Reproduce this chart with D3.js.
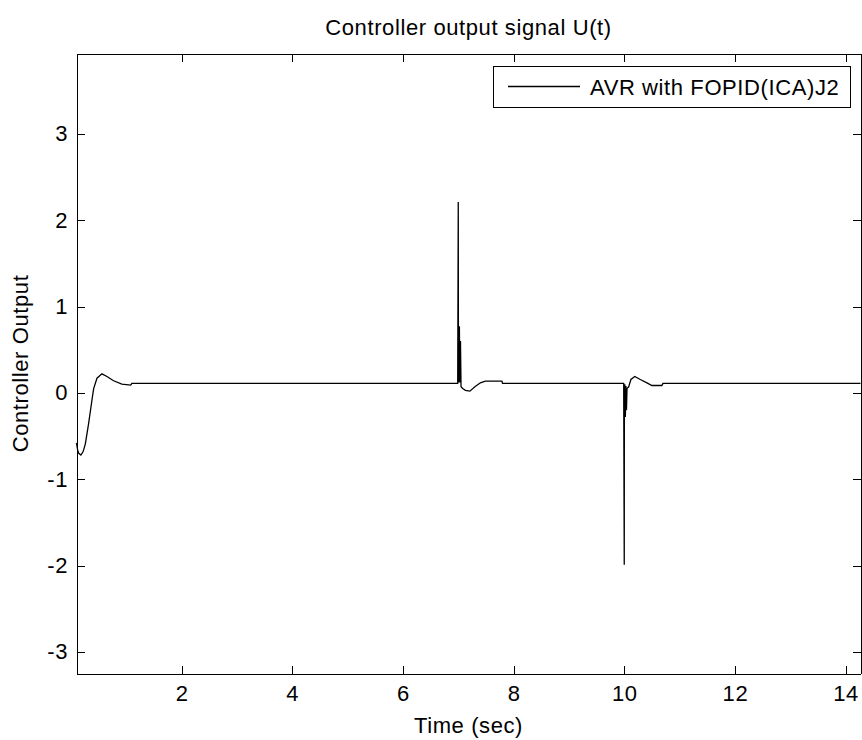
<!doctype html>
<html lang="en">

<head>
    <meta charset="utf-8">
    <title>Controller output signal U(t)</title>
    <style>
        body {
            margin: 0;
            background: #ffffff;
        }

        svg text {
            font-family: "Liberation Sans", Arial, sans-serif;
            fill: #000000;
            letter-spacing: 0.6px;
        }

        .axis path,
        .axis line {
            stroke: #000000;
            shape-rendering: crispEdges;
        }
    </style>
</head>

<body>

    <div id="my_dataviz"></div>

    <script src="https://d3js.org/d3.v7.min.js"></script>

    <script>
        // values
        var timeSec = [
            0.10, 0.12, 0.14, 0.18, 0.22, 0.26, 0.32, 0.38, 0.41, 0.47, 0.56, 0.65, 0.77, 0.92, 1.08, 1.10,
            6.99, 7.00, 7.002, 7.01, 7.02, 7.03, 7.04, 7.05, 7.08, 7.13, 7.21, 7.30, 7.40, 7.49, 7.79, 7.80,
            9.99, 10.00, 10.002, 10.01, 10.02, 10.03, 10.04, 10.05, 10.08, 10.12, 10.19, 10.29, 10.41, 10.50, 10.68, 10.70,
            14.27
        ]
        var controllerOut = [
            -0.58, -0.66, -0.70, -0.72, -0.68, -0.59, -0.35, -0.08, 0.05, 0.17, 0.22, 0.19, 0.14, 0.10, 0.09, 0.11,
            0.11, 2.21, 0.78, 0.12, 0.77, 0.12, 0.60, 0.07, 0.05, 0.03, 0.02, 0.07, 0.116, 0.135, 0.135, 0.11,
            0.11, -1.99, -0.30, 0.10, -0.28, 0.08, -0.20, 0.05, 0.07, 0.155, 0.19, 0.155, 0.116, 0.085, 0.085, 0.11,
            0.11
        ]
        var xTicks = [2, 4, 6, 8, 10, 12, 14]
        var yTicks = [-3, -2, -1, 0, 1, 2, 3]
        var seriesName = "AVR with FOPID(ICA)J2"

        var width = 862
        var height = 740
        // plot box edges (note: "top" is taken by window.top)
        var boxL = 76.5, boxR = 860.5, boxT = 53.5, boxB = 673.5

        var svg = d3.select("#my_dataviz")
            .append("svg")
            .attr("width", width)
            .attr("height", height)

        var x = d3.scaleLinear().domain([0.1, 14.27]).range([boxL, boxR])
        var y = d3.scaleLinear().domain([-3.25, 3.93]).range([boxB, boxT])

        // curve
        var points = timeSec.map(function(t, i) {
            return [t, controllerOut[i]]
        })
        svg.append("path")
            .datum(points)
            .attr("fill", "none")
            .attr("stroke", "#000000")
            .attr("stroke-width", 1.3)
            .attr("d", d3.line()
                .x(function(d) { return x(d[0]) })
                .y(function(d) { return y(d[1]) })
            )

        // plain hyphen for negatives, like the original
        var plain = function(d) { return String(d) }

        // axes, ticks point inwards on all four sides
        svg.append("g").attr("class", "axis")
            .attr("transform", "translate(0," + boxB + ")")
            .call(d3.axisBottom(x).tickValues(xTicks).tickFormat(plain).tickSizeInner(-8).tickSizeOuter(0).tickPadding(12))
        svg.append("g").attr("class", "axis")
            .attr("transform", "translate(0," + boxT + ")")
            .call(d3.axisTop(x).tickValues(xTicks).tickSizeInner(-8).tickSizeOuter(0).tickFormat(""))
        svg.append("g").attr("class", "axis")
            .attr("transform", "translate(" + boxL + ",0)")
            .call(d3.axisLeft(y).tickValues(yTicks).tickFormat(plain).tickSizeInner(-8).tickSizeOuter(0).tickPadding(8.5))
        svg.append("g").attr("class", "axis")
            .attr("transform", "translate(" + boxR + ",0)")
            .call(d3.axisRight(y).tickValues(yTicks).tickSizeInner(-8).tickSizeOuter(0).tickFormat(""))

        svg.selectAll(".axis text")
            .style("font-size", "22px")
            .style("font-family", "'Liberation Sans', Arial, sans-serif")
            .attr("fill", "#000000")

        // titles
        svg.append("text")
            .attr("x", (boxL + boxR) / 2)
            .attr("y", 35)
            .attr("text-anchor", "middle")
            .style("font-size", "22px")
            .text("Controller output signal U(t)")

        svg.append("text")
            .attr("x", (boxL + boxR) / 2)
            .attr("y", 733)
            .attr("text-anchor", "middle")
            .style("font-size", "22px")
            .text("Time (sec)")

        svg.append("text")
            .attr("transform", "translate(28," + (boxT + boxB) / 2 + ") rotate(-90)")
            .attr("text-anchor", "middle")
            .style("font-size", "22px")
            .text("Controller Output")

        // legend
        var legend = svg.append("g")
        legend.append("rect")
            .attr("x", 493.5)
            .attr("y", 66.5)
            .attr("width", 357)
            .attr("height", 41)
            .attr("fill", "#ffffff")
            .attr("stroke", "#000000")
            .attr("shape-rendering", "crispEdges")
        legend.append("line")
            .attr("x1", 508)
            .attr("x2", 580)
            .attr("y1", 86.5)
            .attr("y2", 86.5)
            .attr("stroke", "#000000")
            .attr("stroke-width", 1.3)
        legend.append("text")
            .attr("x", 590)
            .attr("y", 94.5)
            .style("font-size", "22px")
            .text(seriesName)
    </script>

</body>

</html>
